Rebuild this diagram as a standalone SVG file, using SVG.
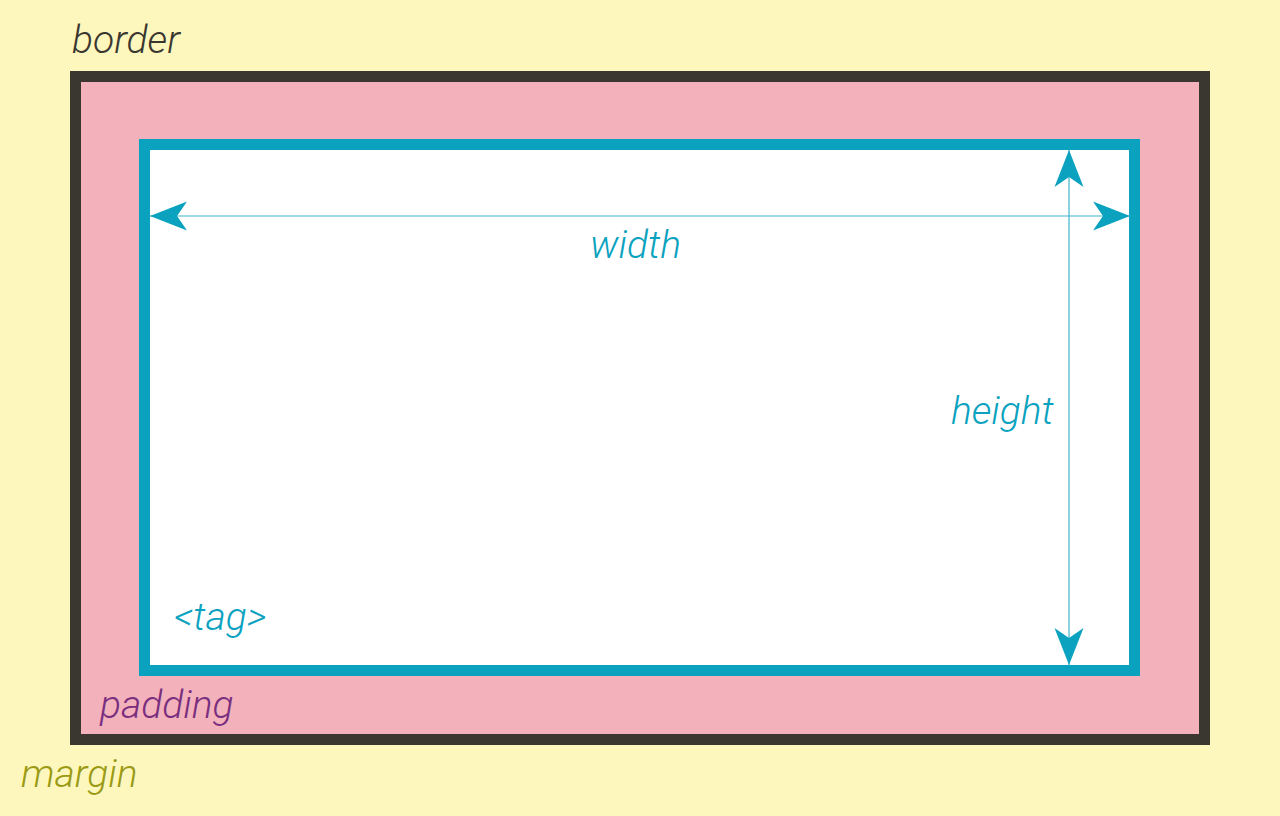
<svg xmlns="http://www.w3.org/2000/svg" width="1280" height="816" viewBox="0 0 1280 816">
  <style>
    .lbl { font-family: Roboto, "Liberation Sans", sans-serif; font-style: italic; font-weight: 300; font-size: 39px; }
    .dim { stroke: #3FB3CB; stroke-width: 1.2; fill: none; }
  </style>
  <defs>
    <marker id="arrow" markerUnits="userSpaceOnUse" orient="auto-start-reverse" refX="0" refY="0" markerWidth="40" markerHeight="32" overflow="visible">
      <path d="M0,0 L-37,-14.5 L-27,0 L-37,14.5 Z" fill="#0AA2BF"/>
    </marker>
  </defs>
  <rect id="margin" x="0" y="0" width="1280" height="816" fill="#FEF7BD"/>
  <g id="border">
    <rect x="75.5" y="76.5" width="1129" height="663" fill="#F3B1BC" stroke="#3A3731" stroke-width="11"/>
  </g>
  <g id="content">
    <rect x="144.5" y="144.5" width="990" height="526" fill="#FFFFFF" stroke="#0AA2BF" stroke-width="11"/>
  </g>
  <g id="connectors">
    <line class="dim" x1="150" y1="216" x2="1130" y2="216" marker-start="url(#arrow)" marker-end="url(#arrow)"/>
    <line class="dim" x1="1069" y1="150" x2="1069" y2="665" marker-start="url(#arrow)" marker-end="url(#arrow)"/>
  </g>
  <g id="labels">
    <text class="lbl" x="72" y="53" fill="#3A3731">border</text>
    <text class="lbl" x="590" y="258" fill="#0AA2BF">width</text>
    <text class="lbl" x="951" y="424" fill="#0AA2BF">height</text>
    <text class="lbl" x="174" y="630" fill="#0AA2BF">&lt;tag&gt;</text>
    <text class="lbl" x="100" y="718" fill="#7A2E7E">padding</text>
    <text class="lbl" x="21" y="787" fill="#9A9A14">margin</text>
  </g>
</svg>
